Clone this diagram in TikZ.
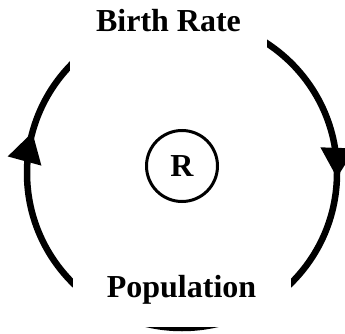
\documentclass[tikz,border=0pt]{standalone}
\usepackage{fontspec}
\setmainfont{Liberation Serif}
\usepackage{tikz}
\usetikzlibrary{arrows.meta, backgrounds, decorations.markings}

\begin{document}
\begin{tikzpicture}[
    x=1pt, y=1pt,
    label/.style={font=\fontsize{32}{38}\selectfont\bfseries, fill=white, inner sep=0pt},
    link/.style={line width=6.5pt, postaction={decorate}},
    tip/.style={decoration={markings, mark=at position #1 with
        {\arrow{Triangle[length=30pt, width=33pt]}}}}
]
\useasboundingbox (0,0) rectangle (345,333);

%% ================================================================
%% Kreislauf: Mittelpunkt und Radius
%% ================================================================
\def\loopradius{155}
\coordinate (center) at (182,160);

%% --- Knoten ---
\node[label, minimum width=197, minimum height=100] (birth) at (168.5,312) {Birth Rate};
\node[label, minimum width=218, minimum height=75] (pop) at (181.5,43.5) {Population};
\node[draw, circle, line width=3pt, minimum size=71, inner sep=0pt,
      font=\fontsize{32}{38}\selectfont\bfseries] (loop) at (182,167) {R};

%% --- Anfangspunkte der Boegen (unter den Knoten) ---
\path (center) ++(-90:\loopradius) coordinate (bottom);
\path (center) ++(90:\loopradius) coordinate (top);

%% ================================================================
%% Boegen hinter den Knoten
%% ================================================================
\begin{scope}[on background layer]
%% --- links: Population -> Birth Rate ---
\draw[link, tip=0.585] (bottom) arc[start angle=270, end angle=90, radius=\loopradius];
%% --- rechts: Birth Rate -> Population ---
\draw[link, tip=0.51] (top) arc[start angle=90, end angle=-90, radius=\loopradius];
\end{scope}

\end{tikzpicture}
\end{document}
